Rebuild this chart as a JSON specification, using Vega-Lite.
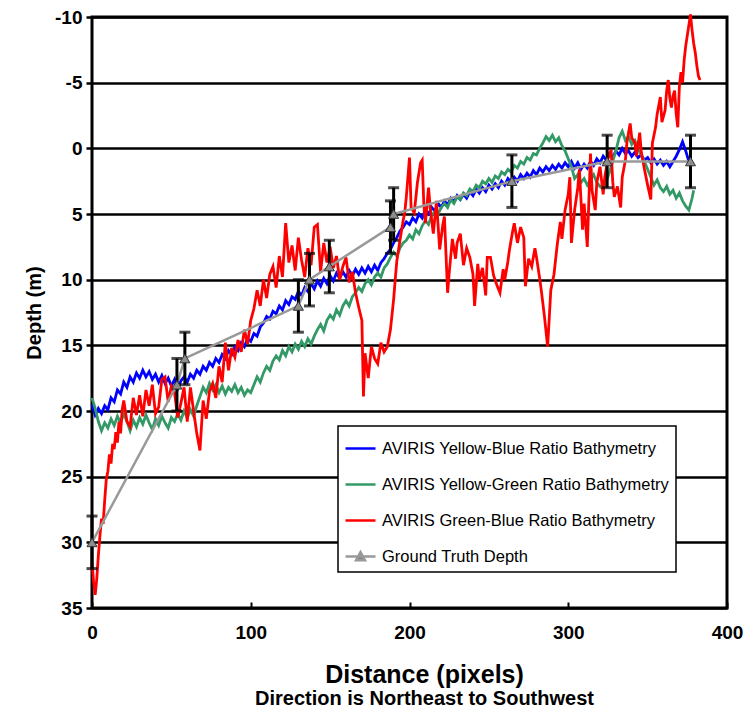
{
  "$schema": "https://vega.github.io/schema/vega-lite/v6.json",
  "width": 635,
  "height": 591,
  "autosize": {"type": "none"},
  "padding": {"left": 92, "top": 17, "right": 18, "bottom": 119},
  "background": "white",
  "config": {
    "view": {"stroke": "black", "strokeWidth": 3},
    "font": "Liberation Sans",
    "axis": {"labelFont": "Liberation Sans", "labelFontWeight": "bold", "labelFontSize": 19, "labelColor": "black", "titleFont": "Liberation Sans", "titleFontWeight": "bold", "titleColor": "black"}
  },
  "title": {"text": "Direction is Northeast to Southwest", "orient": "bottom", "anchor": "middle", "font": "Liberation Sans", "fontSize": 20, "fontWeight": "bold", "color": "black", "dx": 15, "offset": 2},
  "datasets": {
    "yb": [
      {"x":0,"y":19.5},{"x":2,"y":20.3},{"x":4,"y":19.8},{"x":6,"y":20.2},{"x":8,"y":19.6},{"x":10,"y":19.9},{"x":12,"y":19.0},{"x":14,"y":19.3},{"x":16,"y":18.4},{"x":18,"y":18.7},{"x":20,"y":17.8},{"x":22,"y":18.2},{"x":24,"y":17.4},{"x":26,"y":17.8},{"x":28,"y":17.1},{"x":30,"y":17.5},{"x":32,"y":16.9},{"x":34,"y":17.4},{"x":36,"y":17.0},{"x":38,"y":17.6},{"x":40,"y":17.2},{"x":42,"y":17.8},{"x":44,"y":17.3},{"x":46,"y":17.9},{"x":48,"y":17.5},{"x":50,"y":18.1},{"x":52,"y":17.6},{"x":54,"y":18.3},{"x":56,"y":17.7},{"x":58,"y":17.4},{"x":60,"y":17.8},{"x":62,"y":17.2},{"x":64,"y":17.5},{"x":66,"y":16.9},{"x":68,"y":17.2},{"x":70,"y":16.6},{"x":72,"y":16.9},{"x":74,"y":16.3},{"x":76,"y":16.6},{"x":78,"y":16.0},{"x":80,"y":16.3},{"x":82,"y":15.7},{"x":84,"y":16.0},{"x":86,"y":15.4},{"x":88,"y":15.7},{"x":90,"y":15.1},{"x":92,"y":15.4},{"x":94,"y":14.8},{"x":96,"y":15.1},{"x":98,"y":14.5},{"x":100,"y":14.7},{"x":102,"y":14.1},{"x":104,"y":14.3},{"x":106,"y":13.6},{"x":108,"y":13.3},{"x":110,"y":12.8},{"x":112,"y":13.0},{"x":114,"y":12.4},{"x":116,"y":12.6},{"x":118,"y":12.0},{"x":120,"y":12.3},{"x":122,"y":11.6},{"x":124,"y":11.9},{"x":126,"y":11.3},{"x":128,"y":11.5},{"x":130,"y":10.9},{"x":132,"y":11.2},{"x":134,"y":10.6},{"x":136,"y":10.9},{"x":138,"y":10.3},{"x":140,"y":10.7},{"x":142,"y":10.1},{"x":144,"y":10.5},{"x":146,"y":9.9},{"x":148,"y":10.3},{"x":150,"y":9.7},{"x":152,"y":10.1},{"x":154,"y":9.5},{"x":156,"y":9.9},{"x":158,"y":9.4},{"x":160,"y":9.8},{"x":162,"y":9.3},{"x":164,"y":9.7},{"x":166,"y":9.2},{"x":168,"y":9.6},{"x":170,"y":9.1},{"x":172,"y":9.5},{"x":174,"y":9.0},{"x":176,"y":9.4},{"x":178,"y":8.9},{"x":180,"y":9.3},{"x":182,"y":8.7},{"x":184,"y":8.4},{"x":186,"y":8.0},{"x":188,"y":7.7},{"x":190,"y":7.2},{"x":192,"y":6.8},{"x":194,"y":6.3},{"x":196,"y":6.0},{"x":198,"y":5.6},{"x":200,"y":5.8},{"x":202,"y":5.3},{"x":204,"y":5.6},{"x":206,"y":5.0},{"x":208,"y":5.3},{"x":210,"y":4.7},{"x":212,"y":5.0},{"x":214,"y":4.5},{"x":216,"y":4.8},{"x":218,"y":4.2},{"x":220,"y":4.5},{"x":222,"y":4.0},{"x":224,"y":4.3},{"x":226,"y":3.8},{"x":228,"y":4.1},{"x":230,"y":3.6},{"x":232,"y":3.9},{"x":234,"y":3.5},{"x":236,"y":3.8},{"x":238,"y":3.3},{"x":240,"y":3.6},{"x":242,"y":3.1},{"x":244,"y":3.4},{"x":246,"y":3.0},{"x":248,"y":3.3},{"x":250,"y":2.8},{"x":252,"y":3.1},{"x":254,"y":2.7},{"x":256,"y":3.0},{"x":258,"y":2.5},{"x":260,"y":2.8},{"x":262,"y":2.3},{"x":264,"y":2.6},{"x":266,"y":2.2},{"x":268,"y":2.5},{"x":270,"y":2.0},{"x":272,"y":2.3},{"x":274,"y":1.9},{"x":276,"y":2.2},{"x":278,"y":1.7},{"x":280,"y":2.0},{"x":282,"y":1.5},{"x":284,"y":1.8},{"x":286,"y":1.4},{"x":288,"y":1.7},{"x":290,"y":1.3},{"x":292,"y":1.6},{"x":294,"y":1.2},{"x":296,"y":1.5},{"x":298,"y":1.1},{"x":300,"y":1.4},{"x":302,"y":1.0},{"x":304,"y":1.5},{"x":306,"y":1.1},{"x":308,"y":1.6},{"x":310,"y":1.2},{"x":312,"y":1.5},{"x":314,"y":1.0},{"x":316,"y":1.3},{"x":318,"y":0.8},{"x":320,"y":1.1},{"x":322,"y":0.6},{"x":324,"y":0.9},{"x":326,"y":0.4},{"x":328,"y":0.7},{"x":330,"y":0.2},{"x":332,"y":0.5},{"x":334,"y":0.0},{"x":336,"y":0.4},{"x":338,"y":0.2},{"x":340,"y":0.6},{"x":342,"y":0.3},{"x":344,"y":0.7},{"x":346,"y":0.5},{"x":348,"y":0.9},{"x":350,"y":0.7},{"x":352,"y":1.1},{"x":354,"y":0.8},{"x":356,"y":1.2},{"x":358,"y":0.9},{"x":360,"y":1.3},{"x":362,"y":1.0},{"x":364,"y":1.4},{"x":366,"y":1.0},{"x":368,"y":0.6},{"x":370,"y":0.1},{"x":372,"y":-0.5},{"x":374,"y":0.2},{"x":376,"y":1.0}
    ],
    "yg": [
      {"x":0,"y":19.0},{"x":2,"y":19.8},{"x":4,"y":20.8},{"x":6,"y":21.5},{"x":8,"y":20.9},{"x":10,"y":21.3},{"x":12,"y":20.6},{"x":14,"y":21.1},{"x":16,"y":20.4},{"x":18,"y":20.9},{"x":20,"y":20.2},{"x":22,"y":20.8},{"x":24,"y":21.5},{"x":26,"y":20.7},{"x":28,"y":21.2},{"x":30,"y":20.5},{"x":32,"y":21.0},{"x":34,"y":20.3},{"x":36,"y":20.9},{"x":38,"y":21.4},{"x":40,"y":20.6},{"x":42,"y":21.1},{"x":44,"y":20.4},{"x":46,"y":20.9},{"x":48,"y":21.3},{"x":50,"y":20.5},{"x":52,"y":20.8},{"x":54,"y":20.2},{"x":56,"y":20.7},{"x":58,"y":20.0},{"x":60,"y":20.5},{"x":62,"y":19.9},{"x":64,"y":20.4},{"x":66,"y":19.6},{"x":68,"y":18.9},{"x":70,"y":18.2},{"x":72,"y":18.6},{"x":74,"y":17.9},{"x":76,"y":18.4},{"x":78,"y":18.0},{"x":80,"y":18.6},{"x":82,"y":18.1},{"x":84,"y":18.7},{"x":86,"y":18.2},{"x":88,"y":18.5},{"x":90,"y":18.0},{"x":92,"y":18.6},{"x":94,"y":18.2},{"x":96,"y":18.8},{"x":98,"y":18.4},{"x":100,"y":18.6},{"x":102,"y":18.0},{"x":104,"y":17.4},{"x":106,"y":17.8},{"x":108,"y":17.1},{"x":110,"y":16.6},{"x":112,"y":16.9},{"x":114,"y":16.2},{"x":116,"y":15.8},{"x":118,"y":16.1},{"x":120,"y":15.4},{"x":122,"y":15.8},{"x":124,"y":15.1},{"x":126,"y":15.5},{"x":128,"y":14.9},{"x":130,"y":15.3},{"x":132,"y":14.7},{"x":134,"y":15.1},{"x":136,"y":14.5},{"x":138,"y":14.9},{"x":140,"y":14.3},{"x":142,"y":13.8},{"x":144,"y":13.4},{"x":146,"y":13.9},{"x":148,"y":13.1},{"x":150,"y":12.7},{"x":152,"y":13.0},{"x":154,"y":12.3},{"x":156,"y":12.7},{"x":158,"y":12.0},{"x":160,"y":11.6},{"x":162,"y":12.0},{"x":164,"y":11.3},{"x":166,"y":11.0},{"x":168,"y":10.6},{"x":170,"y":10.9},{"x":172,"y":10.3},{"x":174,"y":10.0},{"x":176,"y":10.4},{"x":178,"y":9.8},{"x":180,"y":9.5},{"x":182,"y":9.8},{"x":184,"y":9.1},{"x":186,"y":8.8},{"x":188,"y":8.3},{"x":190,"y":7.9},{"x":192,"y":8.2},{"x":194,"y":7.6},{"x":196,"y":7.2},{"x":198,"y":7.0},{"x":200,"y":6.6},{"x":202,"y":6.9},{"x":204,"y":6.2},{"x":206,"y":6.5},{"x":208,"y":5.9},{"x":210,"y":5.5},{"x":212,"y":5.8},{"x":214,"y":5.1},{"x":216,"y":4.8},{"x":218,"y":5.0},{"x":220,"y":4.5},{"x":222,"y":4.2},{"x":224,"y":4.5},{"x":226,"y":3.9},{"x":228,"y":4.2},{"x":230,"y":3.7},{"x":232,"y":3.9},{"x":234,"y":3.4},{"x":236,"y":3.6},{"x":238,"y":3.1},{"x":240,"y":3.3},{"x":242,"y":2.8},{"x":244,"y":3.0},{"x":246,"y":2.5},{"x":248,"y":2.7},{"x":250,"y":2.3},{"x":252,"y":2.6},{"x":254,"y":2.1},{"x":256,"y":2.3},{"x":258,"y":1.8},{"x":260,"y":2.0},{"x":262,"y":1.6},{"x":264,"y":1.8},{"x":266,"y":1.3},{"x":268,"y":1.5},{"x":270,"y":1.0},{"x":272,"y":1.2},{"x":274,"y":0.7},{"x":276,"y":0.9},{"x":278,"y":0.4},{"x":280,"y":0.5},{"x":282,"y":0.0},{"x":284,"y":-0.4},{"x":286,"y":-0.9},{"x":288,"y":-0.6},{"x":290,"y":-1.0},{"x":292,"y":-0.5},{"x":294,"y":-0.8},{"x":296,"y":-0.2},{"x":298,"y":0.2},{"x":300,"y":0.8},{"x":302,"y":1.4},{"x":304,"y":2.3},{"x":306,"y":2.0},{"x":308,"y":2.6},{"x":310,"y":2.3},{"x":312,"y":2.8},{"x":314,"y":2.4},{"x":316,"y":2.0},{"x":318,"y":2.6},{"x":320,"y":2.9},{"x":322,"y":3.1},{"x":324,"y":2.5},{"x":326,"y":1.8},{"x":328,"y":1.0},{"x":330,"y":0.2},{"x":332,"y":-0.8},{"x":334,"y":-1.3},{"x":336,"y":-0.6},{"x":338,"y":-0.9},{"x":340,"y":-0.3},{"x":342,"y":-0.6},{"x":344,"y":0.0},{"x":346,"y":0.5},{"x":348,"y":1.0},{"x":350,"y":1.6},{"x":352,"y":2.2},{"x":354,"y":2.8},{"x":356,"y":2.4},{"x":358,"y":3.0},{"x":360,"y":3.3},{"x":362,"y":2.9},{"x":364,"y":3.5},{"x":366,"y":3.2},{"x":368,"y":3.8},{"x":370,"y":3.4},{"x":372,"y":4.0},{"x":374,"y":4.4},{"x":376,"y":4.7},{"x":378,"y":3.8},{"x":379,"y":3.2}
    ],
    "gb": [
      {"x":0,"y":31.5},{"x":1,"y":33.0},{"x":2,"y":34.0},{"x":3,"y":32.8},{"x":4,"y":31.0},{"x":5,"y":29.5},{"x":6,"y":28.2},{"x":7,"y":28.6},{"x":8,"y":26.8},{"x":9,"y":25.2},{"x":10,"y":24.6},{"x":11,"y":23.3},{"x":12,"y":24.0},{"x":13,"y":22.5},{"x":14,"y":22.9},{"x":15,"y":21.6},{"x":16,"y":22.4},{"x":17,"y":20.8},{"x":18,"y":21.7},{"x":19,"y":19.9},{"x":20,"y":19.2},{"x":22,"y":20.8},{"x":24,"y":21.2},{"x":26,"y":19.0},{"x":28,"y":20.3},{"x":30,"y":18.8},{"x":32,"y":20.4},{"x":34,"y":18.4},{"x":36,"y":19.6},{"x":38,"y":18.0},{"x":40,"y":20.2},{"x":42,"y":19.7},{"x":44,"y":17.6},{"x":46,"y":17.4},{"x":48,"y":19.3},{"x":50,"y":18.1},{"x":52,"y":18.6},{"x":54,"y":20.5},{"x":56,"y":19.4},{"x":58,"y":18.2},{"x":60,"y":20.8},{"x":62,"y":18.2},{"x":64,"y":20.0},{"x":66,"y":21.7},{"x":68,"y":23.0},{"x":70,"y":19.2},{"x":72,"y":20.6},{"x":74,"y":18.5},{"x":76,"y":17.9},{"x":78,"y":19.0},{"x":80,"y":16.6},{"x":82,"y":17.8},{"x":84,"y":14.8},{"x":86,"y":16.9},{"x":88,"y":15.2},{"x":90,"y":15.9},{"x":92,"y":14.6},{"x":94,"y":15.5},{"x":96,"y":13.8},{"x":98,"y":14.9},{"x":100,"y":13.1},{"x":102,"y":12.2},{"x":104,"y":10.8},{"x":106,"y":12.0},{"x":108,"y":10.0},{"x":110,"y":11.4},{"x":112,"y":9.6},{"x":114,"y":9.0},{"x":116,"y":10.6},{"x":118,"y":8.2},{"x":120,"y":9.8},{"x":122,"y":5.7},{"x":124,"y":8.7},{"x":126,"y":7.4},{"x":128,"y":9.3},{"x":130,"y":6.8},{"x":132,"y":8.5},{"x":134,"y":9.8},{"x":136,"y":7.6},{"x":138,"y":8.9},{"x":140,"y":6.0},{"x":142,"y":5.8},{"x":144,"y":9.4},{"x":146,"y":7.2},{"x":148,"y":8.7},{"x":150,"y":7.5},{"x":152,"y":9.1},{"x":154,"y":8.2},{"x":156,"y":10.0},{"x":158,"y":9.0},{"x":160,"y":8.3},{"x":162,"y":10.2},{"x":164,"y":9.4},{"x":166,"y":11.0},{"x":168,"y":12.1},{"x":170,"y":13.1},{"x":171,"y":18.9},{"x":172,"y":15.6},{"x":174,"y":17.5},{"x":176,"y":15.1},{"x":178,"y":16.0},{"x":180,"y":16.4},{"x":182,"y":14.8},{"x":184,"y":15.5},{"x":186,"y":15.1},{"x":188,"y":13.8},{"x":190,"y":11.5},{"x":191,"y":10.0},{"x":192,"y":8.6},{"x":194,"y":7.0},{"x":196,"y":5.5},{"x":197,"y":4.9},{"x":198,"y":3.7},{"x":200,"y":0.7},{"x":201,"y":4.5},{"x":203,"y":4.9},{"x":205,"y":2.6},{"x":207,"y":1.1},{"x":208,"y":0.9},{"x":209,"y":4.2},{"x":210,"y":5.7},{"x":212,"y":3.0},{"x":213,"y":4.5},{"x":215,"y":6.5},{"x":217,"y":4.0},{"x":219,"y":7.7},{"x":221,"y":5.8},{"x":222,"y":5.2},{"x":224,"y":11.0},{"x":225,"y":9.5},{"x":227,"y":6.9},{"x":229,"y":8.4},{"x":230,"y":7.2},{"x":232,"y":6.5},{"x":234,"y":8.9},{"x":236,"y":7.6},{"x":238,"y":8.3},{"x":240,"y":9.6},{"x":241,"y":12.0},{"x":243,"y":8.8},{"x":244,"y":10.0},{"x":246,"y":9.1},{"x":248,"y":11.2},{"x":249,"y":8.3},{"x":251,"y":8.3},{"x":253,"y":9.7},{"x":255,"y":10.4},{"x":257,"y":11.0},{"x":259,"y":9.2},{"x":260,"y":10.0},{"x":262,"y":8.6},{"x":263,"y":7.7},{"x":265,"y":6.3},{"x":266,"y":5.7},{"x":268,"y":7.2},{"x":270,"y":6.0},{"x":272,"y":6.8},{"x":273,"y":10.5},{"x":275,"y":8.4},{"x":277,"y":9.0},{"x":279,"y":7.6},{"x":280,"y":8.3},{"x":282,"y":9.9},{"x":283,"y":10.8},{"x":285,"y":12.8},{"x":287,"y":15.1},{"x":288,"y":13.0},{"x":289,"y":10.8},{"x":291,"y":9.6},{"x":293,"y":7.4},{"x":295,"y":5.6},{"x":296,"y":6.9},{"x":298,"y":4.7},{"x":300,"y":3.5},{"x":301,"y":2.2},{"x":302,"y":7.2},{"x":304,"y":4.7},{"x":306,"y":3.0},{"x":307,"y":1.6},{"x":309,"y":6.2},{"x":310,"y":4.2},{"x":312,"y":7.5},{"x":314,"y":0.4},{"x":315,"y":3.2},{"x":317,"y":4.7},{"x":318,"y":2.6},{"x":320,"y":1.4},{"x":322,"y":3.5},{"x":323,"y":2.2},{"x":325,"y":0.8},{"x":327,"y":0.1},{"x":328,"y":2.5},{"x":329,"y":3.7},{"x":331,"y":2.9},{"x":333,"y":4.5},{"x":334,"y":2.2},{"x":336,"y":0.9},{"x":337,"y":-0.5},{"x":339,"y":-1.9},{"x":340,"y":-0.8},{"x":342,"y":-0.4},{"x":343,"y":0.6},{"x":345,"y":-1.2},{"x":346,"y":0.3},{"x":348,"y":1.6},{"x":350,"y":2.8},{"x":352,"y":3.9},{"x":353,"y":-0.4},{"x":355,"y":-1.6},{"x":356,"y":-2.6},{"x":358,"y":-3.9},{"x":359,"y":-2.0},{"x":361,"y":-2.9},{"x":362,"y":-4.4},{"x":363,"y":-5.2},{"x":364,"y":-3.8},{"x":365,"y":-3.1},{"x":366,"y":-4.0},{"x":367,"y":-4.4},{"x":368,"y":-2.6},{"x":369,"y":-1.6},{"x":370,"y":-4.7},{"x":371,"y":-5.8},{"x":372,"y":-5.0},{"x":373,"y":-6.7},{"x":374,"y":-7.8},{"x":375,"y":-8.6},{"x":376,"y":-9.4},{"x":377,"y":-10.2},{"x":378,"y":-9.0},{"x":379,"y":-8.0},{"x":380,"y":-7.3},{"x":381,"y":-6.3},{"x":382,"y":-5.5},{"x":383,"y":-5.2}
    ],
    "gt": [
      {"x":0,"d":30,"lo":28,"hi":32},
      {"x":53.5,"d":18,"lo":16,"hi":20},
      {"x":58.5,"d":16,"lo":14,"hi":18},
      {"x":130,"d":12,"lo":10,"hi":14},
      {"x":137,"d":10,"lo":8,"hi":12},
      {"x":149.5,"d":9,"lo":7,"hi":11},
      {"x":188,"d":6,"lo":4,"hi":8},
      {"x":190,"d":5,"lo":3,"hi":7},
      {"x":264.5,"d":2.5,"lo":0.5,"hi":4.5},
      {"x":324.5,"d":1,"lo":-1,"hi":3},
      {"x":377,"d":1,"lo":-1,"hi":3}
    ]
  },
  "layer": [
    {
      "data": {"name": "yb"},
      "mark": {"type": "line", "strokeWidth": 2.8},
      "encoding": {
        "x": {"field": "x", "type": "quantitative", "scale": {"domain": [0, 400], "nice": false},
          "axis": {"values": [0, 100, 200, 300, 400], "grid": false, "domain": false, "tickSize": -6, "tickWidth": 2, "tickColor": "black", "labelPadding": 21, "labelFlush": false, "title": "Distance (pixels)", "titleFontSize": 25, "titleX": 332, "titleY": 74, "titleBaseline": "alphabetic", "titleAlign": "center"}},
        "y": {"field": "y", "type": "quantitative", "title": "Depth (m)", "scale": {"domain": [-10, 35], "reverse": true, "nice": false},
          "axis": {"values": [-10, -5, 0, 5, 10, 15, 20, 25, 30, 35], "labelExpr": "'' + datum.value", "labelFlush": false, "grid": true, "gridColor": "black", "gridWidth": 2.5, "gridOpacity": 1, "domain": false, "tickSize": 6, "tickWidth": 2.5, "tickColor": "black", "labelPadding": 4, "titleFontSize": 20, "titlePadding": 10}},
        "color": {"datum": "AVIRIS Yellow-Blue Ratio Bathymetry",
          "scale": {"domain": ["AVIRIS Yellow-Blue Ratio Bathymetry", "AVIRIS Yellow-Green Ratio Bathymetry", "AVIRIS Green-Blue Ratio Bathymetry", "Ground Truth Depth"], "range": ["#0000FF", "#339966", "#FF0000", "#999999"]},
          "legend": {"orient": "none", "legendX": 246, "legendY": 409, "title": null, "fillColor": "white", "strokeColor": "black", "padding": 6, "labelFont": "Liberation Sans", "labelFontSize": 16.5, "labelFontWeight": "normal", "labelColor": "black", "labelOffset": 5, "labelLimit": 400, "symbolSize": 900, "symbolStrokeWidth": 2.5, "rowPadding": 11,
            "encode": {"legend": {"update": {"strokeWidth": {"value": 1.5}}}, "symbols": {"update": {"shape": {"signal": "datum.label === 'Ground Truth Depth' ? 'M-1,0H1M-0.3,0.25L0,-0.3L0.3,0.25Z' : 'M-1,0H1'"}, "fill": {"value": "#808080"}}}}}}
      }
    },
    {
      "data": {"name": "yg"},
      "mark": {"type": "line", "strokeWidth": 2.8},
      "encoding": {
        "x": {"field": "x", "type": "quantitative"},
        "y": {"field": "y", "type": "quantitative", "title": "Depth (m)"},
        "color": {"datum": "AVIRIS Yellow-Green Ratio Bathymetry"}
      }
    },
    {
      "data": {"name": "gb"},
      "mark": {"type": "line", "strokeWidth": 2.8},
      "encoding": {
        "x": {"field": "x", "type": "quantitative"},
        "y": {"field": "y", "type": "quantitative", "title": "Depth (m)"},
        "color": {"datum": "AVIRIS Green-Blue Ratio Bathymetry"}
      }
    },
    {
      "data": {"name": "gt"},
      "mark": {"type": "line", "strokeWidth": 2.5},
      "encoding": {
        "x": {"field": "x", "type": "quantitative"},
        "y": {"field": "d", "type": "quantitative", "title": "Depth (m)"},
        "color": {"datum": "Ground Truth Depth"}
      }
    },
    {
      "data": {"name": "gt"},
      "mark": {"type": "errorbar", "ticks": true, "color": "black", "thickness": 3, "size": 11},
      "encoding": {
        "x": {"field": "x", "type": "quantitative"},
        "y": {"field": "lo", "type": "quantitative", "title": "Depth (m)"},
        "y2": {"field": "hi"}
      }
    },
    {
      "data": {"name": "gt"},
      "mark": {"type": "point", "shape": "triangle-up", "filled": true, "fill": "#8c8c8c", "stroke": "#333333", "strokeWidth": 1, "size": 100, "opacity": 1},
      "encoding": {
        "x": {"field": "x", "type": "quantitative"},
        "y": {"field": "d", "type": "quantitative", "title": "Depth (m)"}
      }
    }
  ]
}
